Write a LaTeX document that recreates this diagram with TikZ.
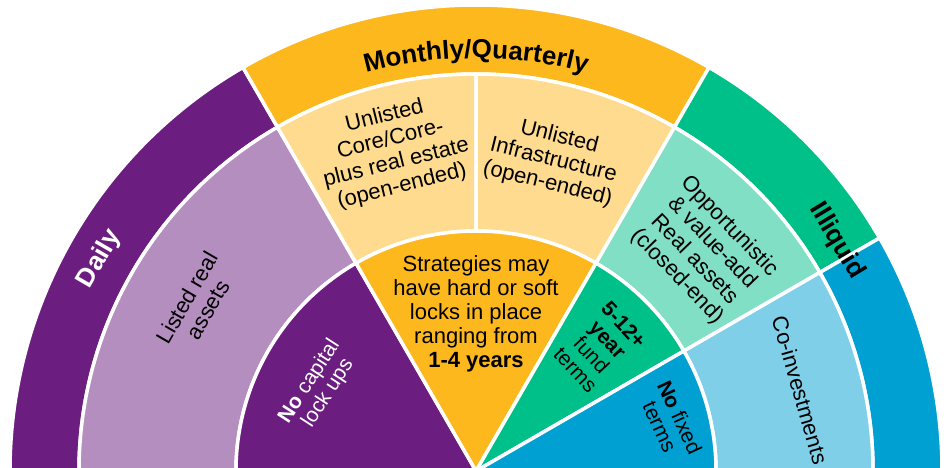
\documentclass[tikz,border=0pt]{standalone}
\usepackage{fontspec}
\setmainfont{Liberation Sans}
\usetikzlibrary{decorations.text}

\tikzset{
  sector/.style={draw=white, line width=3.5pt, line join=round},
  lbl/.style={font=\fontsize{22}{24}\selectfont, align=center, inner sep=0pt},
  small/.style={font=\fontsize{21}{22}\selectfont},
  band/.style={font=\bfseries\fontsize{26}{28}\selectfont, inner sep=0pt},
}

\begin{document}
\begin{tikzpicture}
  \definecolor{purpledark}{RGB}{108,30,128}
  \definecolor{purplelight}{RGB}{181,142,192}
  \definecolor{amber}{RGB}{253,184,30}
  \definecolor{amberlight}{RGB}{254,219,143}
  \definecolor{greendark}{RGB}{0,192,138}
  \definecolor{greenlight}{RGB}{128,223,196}
  \definecolor{bluedark}{RGB}{0,160,210}
  \definecolor{bluelight}{RGB}{128,207,233}

  \useasboundingbox (-476pt,4pt) rectangle (468pt,471pt);
  \clip (-476pt,4pt) rectangle (468pt,471pt);

  % outer band
  \path[sector, fill=purpledark] (120:397pt) arc (120:180:397pt) -- (180:466pt) arc (180:120:466pt) -- cycle;
  \path[sector, fill=amber] (60:397pt) arc (60:120:397pt) -- (120:466pt) arc (120:60:466pt) -- cycle;
  \path[sector, fill=greendark] (30:397pt) arc (30:60:397pt) -- (60:466pt) arc (60:30:466pt) -- cycle;
  \path[sector, fill=bluedark] (0:397pt) arc (0:30:397pt) -- (30:466pt) arc (30:0:466pt) -- cycle;

  % middle band
  \path[sector, fill=purplelight] (120:240pt) arc (120:180:240pt) -- (180:397pt) arc (180:120:397pt) -- cycle;
  \path[sector, fill=amberlight] (90:240pt) arc (90:120:240pt) -- (120:397pt) arc (120:90:397pt) -- cycle;
  \path[sector, fill=amberlight] (60:240pt) arc (60:90:240pt) -- (90:397pt) arc (90:60:397pt) -- cycle;
  \path[sector, fill=greenlight] (30:240pt) arc (30:60:240pt) -- (60:397pt) arc (60:30:397pt) -- cycle;
  \path[sector, fill=bluelight] (0:240pt) arc (0:30:240pt) -- (30:397pt) arc (30:0:397pt) -- cycle;

  % inner wedges
  \path[sector, fill=purpledark] (0,0) -- (120:240pt) arc (120:180:240pt) -- cycle;
  \path[sector, fill=amber] (0,0) -- (60:240pt) arc (60:120:240pt) -- cycle;
  \path[sector, fill=greendark] (0,0) -- (30:240pt) arc (30:60:240pt) -- cycle;
  \path[sector, fill=bluedark] (0,0) -- (0:240pt) arc (0:30:240pt) -- cycle;

  % band titles
  \path[decorate, decoration={text along path, text align=center,
    text={|\bfseries\fontsize{26}{28}\selectfont|Monthly/Quarterly}}]
    (118:413pt) arc (118:62:413pt);
  \node[band, text=white, rotate=60] (daily) at (150.6:432pt) {Daily};
  \node[band, rotate=-59] (illiquid) at (32.5:428pt) {Illiquid};

  % asset labels
  \node[lbl, rotate=60] (listed) at (149:325pt) {Listed real\\assets};
  \node[lbl, rotate=14] (core) at (104.5:330pt) {Unlisted\\Core/Core-\\plus real estate\\(open-ended)};
  \node[lbl, rotate=-14] (infra) at (76:320pt) {Unlisted\\Infrastructure\\(open-ended)};
  \node[lbl, rotate=-46] (opport) at (44:316pt) {Opportunistic\\\& value-add\\Real assets\\(closed-end)};
  \node[lbl, rotate=-74] (coinv) at (14:334pt) {Co-investments};

  % lock-up labels
  \node[lbl, small, text=white, rotate=57] (nolock) at (152:178pt) {\textbf{No} capital\\lock ups};
  \node[lbl] (locks) at (90:157pt) {Strategies may\\have hard or soft\\locks in place\\ranging from\\\textbf{1-4 years}};
  \node[lbl, small, rotate=-47] (fund) at (45:175pt) {\textbf{5-12+}\\\textbf{year}\\fund\\terms};
  \node[lbl, small, rotate=-65] (nofixed) at (14.2:200pt) {\textbf{No} fixed\\terms};
\end{tikzpicture}
\end{document}
